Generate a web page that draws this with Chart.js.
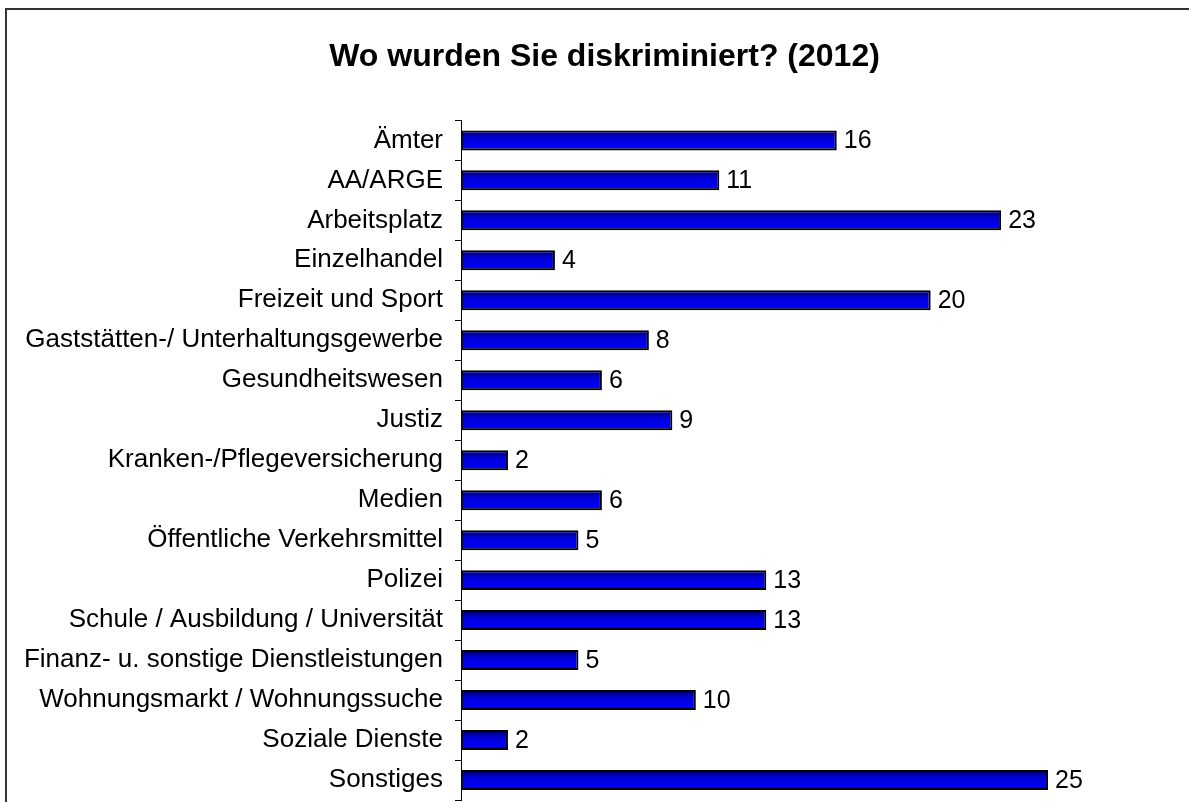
<!DOCTYPE html>
<html>
<head>
<meta charset="utf-8">
<script src="https://cdn.jsdelivr.net/npm/chart.js@4/dist/chart.umd.min.js"></script>
<style>
  html, body { margin: 0; padding: 0; background: #fff; overflow: hidden; }
  #wrap { position: relative; width: 1189px; height: 802px; overflow: hidden; }
  #frame { position: absolute; left: 5px; top: 8px; width: 1400px; height: 1000px;
           border-left: 2px solid #333; border-top: 2px solid #333; }
  canvas { position: absolute; left: 0; top: 0; }
</style>
</head>
<body>
<div id="wrap">
  <div id="frame"></div>
  <canvas id="chart" width="1189" height="802"></canvas>
</div>
<script>
// categories as in the source chart, top to bottom
var categories = [
  "Ämter",
  "AA/ARGE",
  "Arbeitsplatz",
  "Einzelhandel",
  "Freizeit und Sport",
  "Gaststätten-/ Unterhaltungsgewerbe",
  "Gesundheitswesen",
  "Justiz",
  "Kranken-/Pflegeversicherung",
  "Medien",
  "Öffentliche Verkehrsmittel",
  "Polizei",
  "Schule / Ausbildung / Universität",
  "Finanz- u. sonstige Dienstleistungen",
  "Wohnungsmarkt / Wohnungssuche",
  "Soziale Dienste",
  "Sonstiges"
];
var counts = [16, 11, 23, 4, 20, 8, 6, 9, 2, 6, 5, 13, 13, 5, 10, 2, 25];
var chartTitle = "Wo wurden Sie diskriminiert? (2012)";

var FONT = "'Liberation Sans', Arial, sans-serif";

// vertical blue gradient, one per bar
function barFill(ctx) {
  var chart = ctx.chart;
  var y = chart.scales.y;
  if (!y || ctx.dataIndex === undefined) return '#0000ff';
  var c = y.getPixelForValue(ctx.dataIndex);
  var band = Math.abs(y.getPixelForValue(1) - y.getPixelForValue(0));
  if (!isFinite(c) || !isFinite(band) || band === 0) return '#0000ff';
  var h = band * 0.25;
  var g = chart.ctx.createLinearGradient(0, c - h, 0, c + h);
  g.addColorStop(0, '#000058');
  g.addColorStop(0.4, '#0000d8');
  g.addColorStop(1, '#0000ff');
  return g;
}

var valueLabels = {
  id: 'valueLabels',
  afterDatasetsDraw: function (chart) {
    var ctx = chart.ctx;
    var meta = chart.getDatasetMeta(0);
    ctx.save();
    ctx.font = '25px ' + FONT;
    ctx.fillStyle = '#000';
    ctx.textAlign = 'left';
    ctx.textBaseline = 'middle';
    meta.data.forEach(function (bar, i) {
      ctx.fillText(String(counts[i]), bar.x + 7, bar.y + 1);
    });
    ctx.restore();
  }
};

new Chart(document.getElementById('chart'), {
  type: 'bar',
  data: {
    labels: categories,
    datasets: [{
      data: counts,
      backgroundColor: barFill,
      borderColor: '#000',
      borderWidth: 2,
      borderSkipped: false,
      categoryPercentage: 1,
      barPercentage: 0.5
    }]
  },
  options: {
    indexAxis: 'y',
    responsive: false,
    animation: false,
    layout: { padding: { left: 20, right: 0, top: 0, bottom: 2 } },
    plugins: {
      legend: { display: false },
      tooltip: { enabled: false },
      title: {
        display: true,
        text: chartTitle,
        color: '#000',
        font: { family: FONT, size: 32, weight: 'bold' },
        padding: { top: 38, bottom: 44 }
      }
    },
    scales: {
      x: {
        display: false,
        min: 0,
        max: 31
      },
      y: {
        afterFit: function (scale) {
          scale.width = 441;
          scale.paddingTop = 0;
          scale.paddingBottom = 0;
        },
        border: { display: true, color: '#000', width: 1 },
        grid: {
          offset: true,
          drawOnChartArea: false,
          drawTicks: true,
          tickLength: 6,
          color: '#000'
        },
        ticks: {
          color: '#000',
          padding: 12,
          font: { family: FONT, size: 26 }
        }
      }
    }
  },
  plugins: [valueLabels]
});
</script>
</body>
</html>
